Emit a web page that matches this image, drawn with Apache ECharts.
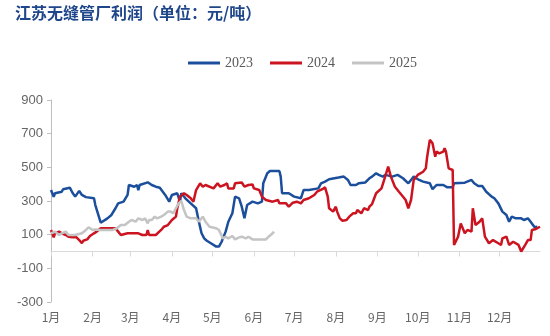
<!DOCTYPE html>
<html><head><meta charset="utf-8">
<script src="https://cdn.jsdelivr.net/npm/echarts@6/dist/echarts.min.js"></script>
<style>html,body{margin:0;padding:0;background:#fff}#c{width:550px;height:336px}</style>
</head><body><div id="c"></div>
<script>
const titleText = '江苏无缝管厂利润（单位：元/吨）';
const monthLabels = ['1月','2月','3月','4月','5月','6月','7月','8月','9月','10月','11月','12月'];
const monthDays = [31,28,31,30,31,30,31,31,30,31,30,31];
const yTicks = [-300,-100,100,300,500,700,900];

// [day-of-year index, profit]
const s2023 = [[0,365],[2,325],[3,346],[8,355],[9,370],[14,379],[16,349],[18,326],[21,360],[23,336],[26,323],[32,316],[33,276],[37,171],[42,197],[45,217],[48,257],[50,286],[54,296],[57,336],[58,395],[62,385],[64,395],[65,365],[66,395],[72,411],[75,395],[78,385],[81,379],[85,336],[88,296],[90,336],[94,346],[96,296],[97,346],[100,316],[104,286],[108,257],[110,180],[112,110],[114,78],[116,64],[119,49],[123,29],[125,29],[127,58],[130,118],[132,177],[135,227],[137,326],[140,316],[142,266],[144,197],[146,276],[150,296],[154,286],[157,296],[158,405],[161,465],[163,478],[170,478],[171,445],[172,346],[177,346],[181,326],[186,316],[188,365],[192,365],[199,375],[201,405],[204,415],[207,429],[214,439],[218,445],[219,455],[221,425],[223,395],[227,395],[229,405],[234,410],[237,435],[239,445],[242,465],[244,455],[247,445],[249,455],[254,445],[258,455],[262,435],[266,405],[268,425],[270,445],[274,425],[277,415],[282,405],[284,370],[287,395],[292,395],[295,381],[299,381],[300,405],[308,409],[313,425],[315,405],[318,389],[321,389],[324,355],[328,326],[330,316],[333,286],[336,237],[339,217],[341,177],[343,207],[346,197],[350,197],[352,187],[355,197],[357,177],[360,144],[362,147]];
const s2024 = [[0,128],[2,84],[3,108],[6,118],[8,108],[11,98],[13,88],[16,84],[19,84],[21,68],[23,49],[24,64],[27,72],[29,92],[32,108],[34,118],[37,138],[48,138],[50,118],[52,98],[57,108],[65,108],[68,98],[71,98],[72,128],[73,98],[78,98],[82,128],[84,147],[87,157],[90,187],[93,207],[94,257],[96,326],[99,346],[101,336],[104,316],[106,296],[108,365],[111,405],[113,385],[115,395],[121,375],[124,405],[125,415],[126,385],[129,395],[131,405],[132,375],[136,375],[137,405],[142,410],[144,385],[147,395],[150,398],[151,375],[155,365],[157,326],[160,306],[165,296],[169,306],[170,286],[175,286],[177,266],[180,290],[183,296],[186,286],[188,306],[192,316],[196,336],[198,355],[202,370],[204,381],[206,326],[207,257],[210,237],[212,266],[213,237],[215,197],[217,183],[220,187],[222,207],[225,227],[227,227],[228,246],[231,227],[233,257],[236,246],[237,266],[239,282],[242,346],[246,375],[248,425],[251,504],[253,445],[256,385],[257,375],[259,355],[261,336],[264,306],[266,257],[268,306],[270,425],[273,455],[277,474],[279,494],[280,563],[282,663],[284,643],[286,563],[287,593],[289,583],[292,593],[293,613],[294,593],[296,494],[299,484],[300,39],[303,88],[305,167],[308,108],[310,128],[313,118],[314,257],[316,157],[319,177],[321,197],[323,88],[326,49],[329,68],[333,49],[335,39],[336,78],[339,88],[341,39],[344,58],[348,39],[350,0],[353,39],[355,68],[357,68],[358,128],[361,134],[364,147]];
const s2025 = [[0,108],[3,118],[6,98],[8,108],[11,118],[13,98],[18,98],[23,108],[26,128],[28,144],[31,128],[33,131],[37,128],[46,128],[49,138],[52,157],[55,157],[58,177],[60,187],[63,177],[65,197],[68,187],[70,197],[72,167],[73,187],[75,187],[77,207],[79,197],[82,207],[84,217],[87,237],[89,237],[91,227],[93,257],[95,286],[97,300],[99,246],[101,207],[104,197],[108,197],[110,177],[113,207],[115,177],[118,147],[123,138],[125,128],[128,78],[130,88],[132,78],[135,92],[137,72],[140,84],[142,88],[145,78],[147,88],[150,72],[155,72],[160,72],[162,88],[165,108],[166,118]];

const seriesNames = ['2023','2024','2025'];
const seriesColors = ['#1B4F9C','#CC1420','#C4C4C4'];

// build day categories and month start indices
const days = [];
const monthStart = {};
monthDays.forEach((n, m) => {
  monthStart[days.length] = monthLabels[m];
  for (let d = 1; d <= n; d++) days.push((m + 1) + '-' + d);
});
const isStart = (i) => Object.prototype.hasOwnProperty.call(monthStart, i);

const chart = echarts.init(document.getElementById('c'), null, {renderer: 'canvas'});
chart.setOption({
  animation: false,
  backgroundColor: '#fff',
  title: {
    text: titleText, left: 10, top: 0,
    textStyle: {fontFamily: '"Noto Sans CJK SC"', fontSize: 16, fontWeight: 'bold', color: '#1F468A'}
  },
  legend: {
    data: seriesNames, left: 183, top: 51, icon: 'rect', itemWidth: 32, itemHeight: 3, itemGap: 17,
    textStyle: {fontFamily: '"Liberation Serif"', fontSize: 14, color: '#595959'}
  },
  grid: {left: 51, right: 10, top: 100, bottom: 34, containLabel: false},
  xAxis: [{
    type: 'category', data: days, boundaryGap: false, position: 'bottom',
    axisLine: {onZero: true, lineStyle: {color: '#D9D9D9', width: 1}},
    axisTick: {show: true, length: 5, interval: (i) => isStart(i), lineStyle: {color: '#D9D9D9'}},
    axisLabel: {show: false}, splitLine: {show: false}
  }, {
    type: 'category', data: days, boundaryGap: false, position: 'bottom',
    axisLine: {show: false, onZero: false}, axisTick: {show: false},
    axisLabel: {
      show: true, interval: (i) => isStart(i), formatter: (v, i) => monthStart[i] || '',
      color: '#666', fontSize: 12, fontFamily: '"Noto Sans CJK SC"', margin: 9
    },
    splitLine: {show: false}
  }],
  yAxis: {
    type: 'value', min: yTicks[0], max: yTicks[yTicks.length - 1], interval: 200,
    axisLine: {show: true, lineStyle: {color: '#BFBFBF'}},
    axisTick: {show: true, length: 4, lineStyle: {color: '#BFBFBF'}},
    axisLabel: {color: '#666', fontSize: 13, fontFamily: '"Liberation Sans"', margin: 8},
    splitLine: {show: false}
  },
  series: [s2023, s2024, s2025].map((d, k) => ({
    name: seriesNames[k], type: 'line', xAxisIndex: 0, data: d,
    showSymbol: false, symbol: 'none', smooth: false, z: 2 + k,
    lineStyle: {color: seriesColors[k], width: 2.5}, itemStyle: {color: seriesColors[k]}
  }))
});
</script></body></html>
